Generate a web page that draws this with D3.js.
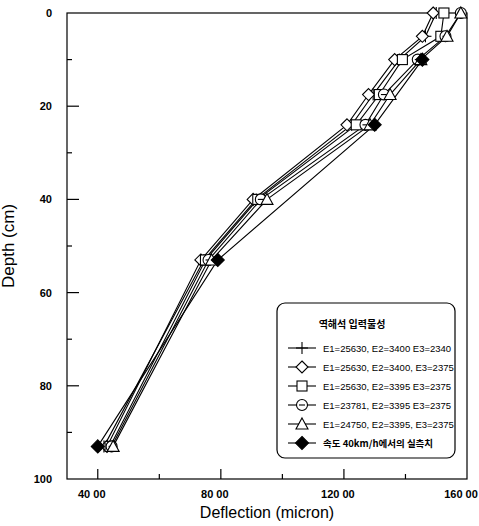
<!DOCTYPE html>
<html><head><meta charset="utf-8">
<script src="https://cdn.jsdelivr.net/npm/d3@7"></script>
<style>body{margin:0;background:#fff}</style>
</head><body>
<svg id="c" width="479" height="526"></svg>
<script>
const depths = [0, 5, 10, 17.5, 24, 40, 53, 93];
const crossVals    = [150, 146.5, 138, 129.5, 122.5, 91.5, 74.5, 42];
const diamondVals  = [149, 145.5, 136.5, 128, 121, 90.5, 73.5, 43];
const squareVals   = [152.5, 151.5, 139, 131.5, 124, 92, 75, 44];
const circleVals   = [158, 153, 144, 133, 127, 93, 76, 44.5];
const triangleVals = [158, 153.5, 145, 135, 128.5, 95, 77, 45];
const measDepths = [10, 24, 53, 93];
const measVals   = [145.5, 130, 79, 40];
const seriesNames = [
  "E1=25630, E2=3400  E3=2340",
  "E1=25630, E2=3400, E3=2375",
  "E1=25630, E2=3395  E3=2375",
  "E1=23781, E2=3395  E3=2375",
  "E1=24750, E2=3395, E3=2375",
  "속도 40km/h에서의 실측치"
];
const legendTitle = "역해석 입력물성";
const xTicks = [40, 80, 120, 160];
const xTickLabels = ["40 00", "80 00", "120 00", "160 00"];
const xMinor = [60, 100, 140];
const yTicks = [0, 20, 40, 60, 80, 100];
const yMinor = [10, 30, 50, 70, 90];

const svg = d3.select("#c");
const L = 67, R = 467, T = 13, B = 479;
const x = d3.scaleLinear().domain([30, 160]).range([L, R]);
const y = d3.scaleLinear().domain([0, 100]).range([T, B]);

const series = [
  {vals: crossVals, d: depths, sym: "cross"},
  {vals: diamondVals, d: depths, sym: "diamond"},
  {vals: squareVals, d: depths, sym: "square"},
  {vals: circleVals, d: depths, sym: "circle"},
  {vals: triangleVals, d: depths, sym: "triangle"},
  {vals: measVals, d: measDepths, sym: "filled"}
];

svg.append("rect").attr("x", L).attr("y", T).attr("width", R - L).attr("height", B - T)
  .attr("fill", "none").attr("stroke", "#000").attr("stroke-width", 1.2);

const g = svg.append("g").attr("stroke", "#000").attr("stroke-width", 1.2);
yTicks.filter(t => t > 0 && t < 100).forEach(t => g.append("line").attr("x1", L).attr("x2", L + 12).attr("y1", y(t)).attr("y2", y(t)));
yMinor.forEach(t => g.append("line").attr("x1", L).attr("x2", L + 5).attr("y1", y(t)).attr("y2", y(t)));
xTicks.filter(t => t < 160).forEach(t => g.append("line").attr("x1", x(t)).attr("x2", x(t)).attr("y1", B).attr("y2", B - 10));
xMinor.forEach(t => g.append("line").attr("x1", x(t)).attr("x2", x(t)).attr("y1", B).attr("y2", B - 5));

const numFont = "'Liberation Sans Narrow','Arial Narrow','Liberation Sans',sans-serif";
svg.selectAll(".yl").data(yTicks).enter().append("text")
  .attr("x", 52).attr("y", d => y(d) + 4).attr("text-anchor", "end")
  .attr("font-family", numFont).attr("font-weight", "bold").attr("font-size", 11)
  .text(d => d);
svg.selectAll(".xl").data(xTicks).enter().append("text")
  .attr("x", (d, i) => x(d) - 6).attr("y", 498).attr("text-anchor", "middle")
  .attr("font-family", numFont).attr("font-weight", "bold").attr("font-size", 11)
  .text((d, i) => xTickLabels[i]);

svg.append("text").attr("x", 267).attr("y", 518).attr("text-anchor", "middle")
  .attr("font-family", "'Liberation Sans',Arial,sans-serif").attr("font-size", 16)
  .text("Deflection (micron)");
svg.append("text").attr("transform", "translate(14,246) rotate(-90)").attr("text-anchor", "middle")
  .attr("font-family", "'Liberation Sans',Arial,sans-serif").attr("font-size", 17)
  .text("Depth (cm)");

function drawSym(sel, sym, cx, cy) {
  const gg = sel.append("g").attr("transform", `translate(${cx},${cy})`)
    .attr("stroke", "#000").attr("stroke-width", 1.1).attr("fill", "#fff");
  if (sym === "cross") {
    gg.append("line").attr("x1", -6).attr("x2", 6).attr("y1", 0).attr("y2", 0);
    gg.append("line").attr("x1", 0).attr("x2", 0).attr("y1", -6).attr("y2", 6);
  } else if (sym === "diamond") {
    gg.append("path").attr("d", "M0,-6L6,0L0,6L-6,0Z");
  } else if (sym === "square") {
    gg.append("rect").attr("x", -5).attr("y", -5).attr("width", 10).attr("height", 10);
  } else if (sym === "circle") {
    gg.append("circle").attr("r", 5.5);
    gg.append("line").attr("x1", -3).attr("x2", 3).attr("y1", 0).attr("y2", 0);
  } else if (sym === "triangle") {
    gg.append("path").attr("d", "M0,-6L6,5L-6,5Z");
  } else if (sym === "filled") {
    gg.append("path").attr("d", "M0,-6.5L6.5,0L0,6.5L-6.5,0Z").attr("fill", "#000");
  }
}

const line = d3.line().x(p => x(p[0])).y(p => y(p[1]));
series.forEach(s => {
  const pts = s.vals.map((v, i) => [v, s.d[i]]);
  svg.append("path").attr("d", line(pts)).attr("fill", "none").attr("stroke", "#000").attr("stroke-width", 1.1);
});
series.forEach(s => {
  s.vals.forEach((v, i) => drawSym(svg, s.sym, x(v), y(s.d[i])));
});

const lg = svg.append("g");
lg.append("rect").attr("x", 277).attr("y", 303).attr("width", 178).attr("height", 155).attr("rx", 8)
  .attr("fill", "#fff").attr("stroke", "#000").attr("stroke-width", 1.2);
lg.append("text").attr("x", 352).attr("y", 328).attr("text-anchor", "middle")
  .attr("font-family", "'Noto Sans CJK KR',sans-serif").attr("font-weight", "bold").attr("font-size", 10)
  .text(legendTitle);
series.forEach((s, i) => {
  const ry = 348 + i * 19;
  lg.append("line").attr("x1", 288).attr("x2", 316).attr("y1", ry).attr("y2", ry).attr("stroke", "#000").attr("stroke-width", 1.1);
  drawSym(lg, s.sym, 302, ry);
  lg.append("text").attr("x", 323).attr("y", ry + 3.5)
    .attr("font-family", i === 5 ? "'Noto Sans CJK KR',sans-serif" : numFont)
    .attr("font-size", 9.5).attr("font-weight", i === 5 ? "bold" : "normal")
    .text(seriesNames[i]);
});
</script>
</body></html>
